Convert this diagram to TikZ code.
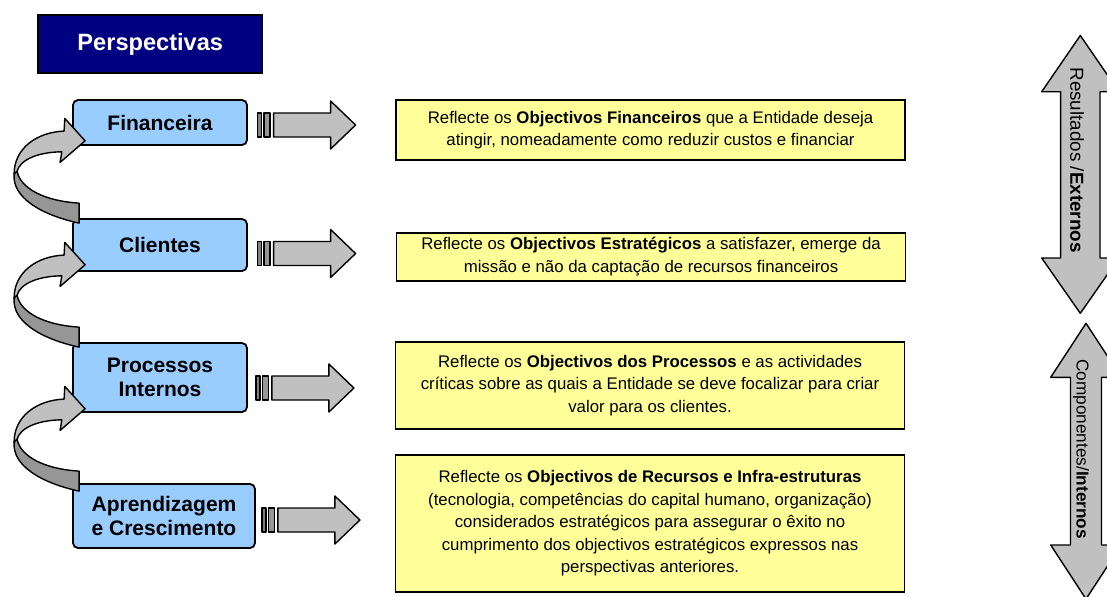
\documentclass[tikz,border=0pt]{standalone}
\usepackage{fontspec}
\setmainfont{Liberation Sans}
\definecolor{navybox}{HTML}{000080}
\definecolor{skyfill}{HTML}{99CCFF}
\definecolor{notefill}{HTML}{FFFF99}
\definecolor{lightgrey}{HTML}{C0C0C0}
\definecolor{darkgrey}{HTML}{969696}
\definecolor{bargrey}{HTML}{808080}

\tikzset{
  blockarrow/.style={draw=black, line width=0.7pt, line join=round},
  fwdarrow/.pic={
    \draw[blockarrow, fill=bargrey] (0,-12) rectangle (4,12);
    \draw[blockarrow, fill=darkgrey] (6.5,-12) rectangle (12.5,12);
    \draw[blockarrow, fill=lightgrey] (16,-12) -- (73,-12) -- (73,-24) -- (98,0)
      -- (73,24) -- (73,12) -- (16,12) -- cycle;
  },
  upcurve/.pic={
    \draw[blockarrow, fill=darkgrey] (7,-15) -- (7,5)
      .. controls (-30,-3) and (-60,-20) .. (-58,-44) -- (-55,-47)
      .. controls (-52,-30) and (-28,-17) .. (7,-15) -- cycle;
    \draw[blockarrow, fill=lightgrey] (-58,-44)
      .. controls (-58,-70) and (-35,-86) .. (-8,-87) -- (-7.3,-99.7)
      -- (13,-77.3) -- (-12,-55.7) -- (-10.3,-66.3)
      .. controls (-35,-66) and (-52,-58) .. (-55,-47) -- cycle;
  }
}

\begin{document}
\begin{tikzpicture}[x=0.5pt,y=-0.5pt,
    persbox/.style={draw=black, line width=0.9pt, rounded corners=2.5pt, fill=skyfill,
      align=center, inner sep=0pt, font=\fontsize{10.5}{11.7}\selectfont\bfseries},
    notebox/.style={draw=black, line width=0.9pt, fill=notefill, align=center,
      inner sep=0pt, minimum width=254.5pt, font=\fontsize{8.4}{11.2}\selectfont}]

  \clip (0,0) rectangle (1107,596);

  % titulo
  \node[draw=black, line width=0.9pt, fill=navybox, text=white, minimum width=112pt,
    minimum height=29pt, font=\fontsize{11.8}{14}\selectfont\bfseries]
    (persp) at (150.3,44.2) {Perspectivas};

  % perspectivas
  \node[persbox, minimum width=87pt, minimum height=22.5pt] (fin) at (160,122.5) {Financeira};
  \node[persbox, minimum width=87pt, minimum height=26pt] (cli) at (160,245) {Clientes};
  \node[persbox, minimum width=87pt, minimum height=34.5pt] (proc) at (160,377.5) {Processos\\Internos};
  \node[persbox, minimum width=91pt, minimum height=32pt] (apr) at (164,516) {Aprendizagem\\e Crescimento};

  % descricoes
  \node[notebox, minimum height=30pt] (dfin) at (650.5,130)
    {Reflecte os \textbf{Objectivos Financeiros} que a Entidade deseja\\
     atingir, nomeadamente como reduzir custos e financiar};
  \node[notebox, minimum height=24pt] (dcli) at (651,256.7)
    {Reflecte os \textbf{Objectivos Estratégicos} a satisfazer, emerge da\\
     missão e não da captação de recursos financeiros};
  \node[notebox, minimum height=43.8pt] (dproc) at (650,385.5)
    {Reflecte os \textbf{Objectivos dos Processos} e as actividades\\
     críticas sobre as quais a Entidade se deve focalizar para criar\\
     valor para os clientes.};
  \node[notebox, minimum height=68.3pt] (dapr) at (650,523.3)
    {Reflecte os \textbf{Objectivos de Recursos e Infra-estruturas}\\
     (tecnologia, competências do capital humano, organização)\\
     considerados estratégicos para assegurar o êxito no\\
     cumprimento dos objectivos estratégicos expressos nas\\
     perspectivas anteriores.};

  % setas para as descricoes
  \foreach \src/\dx/\dy in {fin/9.7/2.5, cli/9.7/8.5, proc/8/10.5, apr/6/4}
    \pic at ([shift={(\dx,\dy)}]\src.east) {fwdarrow};

  % setas curvas entre perspectivas
  \foreach \src/\dy in {cli/0, proc/0, apr/3}
    \pic at ([shift={(0,\dy)}]\src.north west) {upcurve};

  % setas duplas
  \draw[blockarrow, fill=lightgrey] (1080.3,35.5) -- (1118.9,91.7) -- (1100,91.7)
    -- (1100,258) -- (1118.9,258) -- (1080.3,313.3) -- (1041.7,258) -- (1060.6,258)
    -- (1060.6,91.7) -- (1041.7,91.7) -- cycle;
  \draw[blockarrow, fill=lightgrey] (1086,323.3) -- (1121.3,377.3) -- (1101.5,377.3)
    -- (1101.5,545) -- (1121.3,545) -- (1086,599) -- (1050.7,545) -- (1070.5,545)
    -- (1070.5,377.3) -- (1050.7,377.3) -- cycle;
  \node[rotate=-90, font=\fontsize{9.4}{11}\selectfont] (resext) at (1077,160)
    {Resultados /\textbf{Externos}};
  \node[rotate=-90, font=\fontsize{8.6}{11}\selectfont] (compint) at (1081,449)
    {Componentes/\textbf{Internos}};
\end{tikzpicture}
\end{document}
